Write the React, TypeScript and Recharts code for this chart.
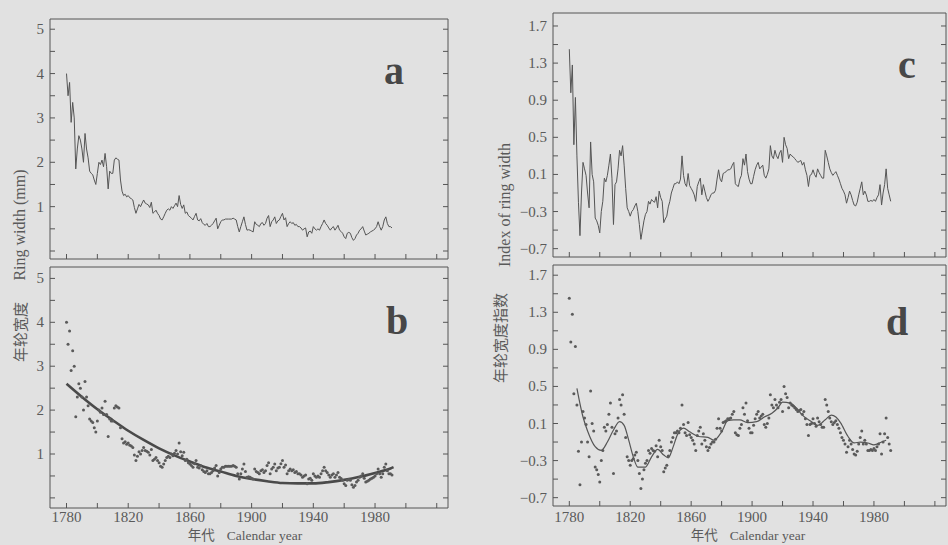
import React from 'react';
import { ComposedChart, Line, Scatter, XAxis, YAxis } from 'recharts';

// ---------------- data ----------------
const START_YEAR = 1780;

// annual ring width (mm), 1780-1991
const ringWidth = [
  4.0, 3.5, 3.8, 2.9, 3.35, 3.0, 1.85, 2.3, 2.6, 2.5,
  2.3, 2.0, 2.65, 2.3, 2.1, 1.8, 1.75, 1.72, 1.6, 1.5,
  1.75, 2.0, 1.95, 2.05, 1.9, 2.2, 1.9, 1.4, 1.8, 1.75,
  1.75, 2.05, 2.1, 2.07, 2.05, 1.6, 1.35, 1.25, 1.28, 1.22,
  1.25, 1.2, 1.18, 1.15, 0.98, 0.85, 0.95, 1.05, 1.0, 1.08,
  1.15, 1.08, 1.06, 1.04, 0.98, 1.1, 0.85, 0.88, 0.92, 0.85,
  0.8, 0.72, 0.7, 0.77, 0.85, 0.92, 0.95, 0.92, 1.0, 0.96,
  1.02, 1.08, 1.0, 1.25, 1.05, 0.96, 1.04, 0.85, 0.88, 0.8,
  0.77, 0.74, 0.7, 0.78, 0.85, 0.7, 0.68, 0.73, 0.64, 0.6,
  0.58, 0.62, 0.55, 0.55, 0.58, 0.62, 0.68, 0.74, 0.5, 0.58,
  0.66, 0.7, 0.7, 0.72, 0.72, 0.72, 0.72, 0.72, 0.74, 0.72,
  0.7, 0.55, 0.43, 0.55, 0.66, 0.77, 0.6, 0.47, 0.48, 0.47,
  0.45, 0.43, 0.66, 0.6, 0.58, 0.55, 0.62, 0.64, 0.58, 0.62,
  0.74, 0.8, 0.55, 0.66, 0.7, 0.77, 0.62, 0.68, 0.7, 0.78,
  0.85, 0.7, 0.75, 0.55, 0.62, 0.66, 0.62, 0.64, 0.58, 0.6,
  0.55, 0.55, 0.52, 0.47, 0.5, 0.52, 0.32, 0.43, 0.45, 0.4,
  0.55, 0.5, 0.47, 0.5, 0.47, 0.55, 0.62, 0.7, 0.62, 0.58,
  0.52, 0.47, 0.52, 0.55, 0.47, 0.52, 0.58, 0.47, 0.44, 0.4,
  0.32, 0.28, 0.4, 0.42, 0.4, 0.3, 0.24, 0.28, 0.36, 0.4,
  0.47, 0.5, 0.55, 0.45, 0.36, 0.38, 0.4, 0.43, 0.45, 0.47,
  0.5, 0.55, 0.66, 0.55, 0.47, 0.55, 0.7, 0.77, 0.62, 0.55,
  0.55, 0.52,
];

// ring width index, 1780-1991
const ringIndex = [
  1.45, 0.98, 1.28, 0.42, 0.93, 0.3, -0.2, -0.56, -0.1, 0.23,
  0.16, 0.09, -0.1, -0.26, 0.45, 0.1, 0.02, -0.37, -0.4, -0.45,
  -0.53, -0.3, -0.19, 0.06, 0.02, 0.09, 0.2, 0.32, 0.06, -0.44,
  -0.01, 0.02, 0.16, 0.36, 0.3, 0.41, 0.2, -0.05, -0.26, -0.3,
  -0.35, -0.3, -0.28, -0.24, -0.21, -0.3, -0.44, -0.6, -0.5, -0.4,
  -0.33, -0.3, -0.19, -0.22, -0.17, -0.19, -0.2, -0.14, -0.26, -0.08,
  -0.15, -0.19, -0.42, -0.38, -0.35, -0.25, -0.19, -0.1, -0.05, 0.0,
  0.0, 0.02, 0.0, 0.05, 0.3, 0.09, 0.0, -0.03, 0.11, -0.02,
  -0.05, -0.08, -0.12, -0.19, -0.03, 0.02, 0.06, -0.12, -0.01, -0.08,
  -0.15, -0.19, -0.16, -0.12, -0.1, -0.1, -0.07, 0.05, 0.15, 0.05,
  0.02, 0.11, 0.12, 0.13, 0.15, 0.15, 0.16, 0.2, 0.23, 0.0,
  -0.02, -0.03, 0.05, 0.09, 0.27, 0.2, 0.32, 0.13, 0.05, 0.0,
  0.0, 0.08, 0.15, 0.2, 0.23, 0.16, 0.18, 0.2, 0.09, 0.06,
  0.1, 0.16, 0.41, 0.3, 0.27, 0.36, 0.3, 0.27, 0.33, 0.36,
  0.23, 0.5, 0.42, 0.38, 0.27, 0.32, 0.3, 0.29, 0.27, 0.25,
  0.23, 0.24, 0.25, 0.2, 0.23, 0.15, 0.09, -0.03, 0.09, 0.1,
  0.15, 0.1, 0.07, 0.16, 0.12, 0.09, 0.06, 0.06, 0.36, 0.3,
  0.23, 0.16, 0.12, 0.09, 0.11, 0.13, 0.09, 0.05, 0.0, -0.05,
  -0.08, -0.12, -0.21, -0.15, -0.08, -0.12, -0.18, -0.23, -0.24, -0.2,
  -0.12, -0.05, 0.02, -0.12, -0.08, -0.12, -0.19, -0.19, -0.18, -0.19,
  -0.17, -0.19, -0.15, -0.12, -0.01, -0.23, -0.1, -0.01, 0.16, -0.05,
  -0.12, -0.19,
];

// growth-trend curve (panel b)
const fitYears = [1780, 1790, 1800, 1810, 1820, 1830, 1840, 1850, 1860, 1870, 1880, 1890, 1900, 1910, 1920, 1930, 1940, 1950, 1960, 1970, 1980, 1990, 1992];
const fitValues = [2.6, 2.3, 2.02, 1.77, 1.53, 1.32, 1.13, 0.97, 0.83, 0.7, 0.6, 0.5, 0.43, 0.38, 0.34, 0.33, 0.33, 0.36, 0.41, 0.48, 0.57, 0.67, 0.7];

// smoothed index (panel d)
const smoothYears = [1785, 1789, 1792, 1797, 1801, 1805, 1809, 1813, 1816, 1819, 1822, 1825, 1830, 1834, 1838, 1842, 1845, 1848, 1851, 1855, 1859, 1865, 1871, 1875, 1880, 1884, 1888, 1892, 1897, 1903, 1908, 1913, 1917, 1920, 1925, 1929, 1933, 1939, 1943, 1948, 1952, 1955, 1958, 1963, 1967, 1971, 1976, 1980, 1985, 1988];
const smoothValues = [0.48, 0.17, 0.02, -0.15, -0.19, -0.1, 0.03, 0.12, 0.08, -0.08, -0.26, -0.37, -0.37, -0.26, -0.18, -0.24, -0.27, -0.16, -0.02, 0.05, 0.01, -0.04, -0.05, -0.08, 0.01, 0.13, 0.14, 0.14, 0.11, 0.12, 0.17, 0.21, 0.27, 0.33, 0.32, 0.27, 0.19, 0.12, 0.08, 0.14, 0.19, 0.17, 0.11, -0.04, -0.11, -0.1, -0.11, -0.13, -0.1, -0.08];

// axis ticks
const xTicks = [1780, 1800, 1820, 1840, 1860, 1880, 1900, 1920, 1940, 1960, 1980, 2000, 2020];
const xLabels = [1780, 1820, 1860, 1900, 1940, 1980];
const widthTicks = [0, 0.5, 1, 1.5, 2, 2.5, 3, 3.5, 4, 4.5, 5];
const widthLabels = [1, 2, 3, 4, 5];
const indexTicks = [-0.7, -0.5, -0.3, -0.1, 0.1, 0.3, 0.5, 0.7, 0.9, 1.1, 1.3, 1.5, 1.7];
const indexLabels = [-0.7, -0.3, 0.1, 0.5, 0.9, 1.3, 1.7];

// ---------------- tables ----------------
const widthData = ringWidth.map((v, i) => ({ year: START_YEAR + i, v }));
const indexData = ringIndex.map((v, i) => ({ year: START_YEAR + i, v }));
const fitData = fitYears.map((year, i) => ({ year, v: fitValues[i] }));
const smoothData = smoothYears.map((year, i) => ({ year, v: smoothValues[i] }));

// ---------------- style ----------------
const W = 948;
const H = 545;
const PAPER = '#e1e1e1';
const INK = '#555555';
const TXT = '#5a5a5a';
const SERIF = '"Liberation Serif", "DejaVu Serif", serif';
const CJK = '"Noto Sans CJK SC", "Noto Sans CJK JP", sans-serif';
const TL = 5;
const X_DOMAIN: [number, number] = [1769.3, 2027.3];

const has = (arr: number[], v: number) => arr.some((a) => Math.abs(a - v) < 1e-6);
const fmtWidth = (v: number) => String(v);
const fmtIndex = (v: number) => (v < 0 ? '\u2212' + Math.abs(v).toFixed(1) : v.toFixed(1));

type Frame = { left: number; top: number; right: number; bottom: number };

const makeBottomTick = (show: boolean, dy: number) => (p: any) => {
  const v = p.payload.value;
  return (
    <g>
      <line x1={p.x} x2={p.x} y1={p.y} y2={p.y - TL} stroke={INK} strokeWidth={1} />
      {show && has(xLabels, v) ? (
        <text x={p.x} y={p.y + dy} textAnchor="middle" fontFamily={SERIF} fontSize={15} fill={TXT}>
          {v}
        </text>
      ) : null}
    </g>
  );
};
const topTick = (p: any) => (
  <line x1={p.x} x2={p.x} y1={p.y} y2={p.y + TL} stroke={INK} strokeWidth={1} />
);
const rightTick = (p: any) => (
  <line x1={p.x} x2={p.x - TL} y1={p.y} y2={p.y} stroke={INK} strokeWidth={1} />
);
const makeLeftTick = (labels: number[], fmt: (v: number) => string) => (p: any) => {
  const v = p.payload.value;
  return (
    <g>
      <line x1={p.x} x2={p.x + TL} y1={p.y} y2={p.y} stroke={INK} strokeWidth={1} />
      {has(labels, v) ? (
        <text x={p.x - 6} y={p.y + 5} textAnchor="end" fontFamily={SERIF} fontSize={15} fill={TXT}>
          {fmt(v)}
        </text>
      ) : null}
    </g>
  );
};

function Panel(props: {
  frame: Frame;
  yDomain: [number, number];
  yTicks: number[];
  yLabels: number[];
  fmt: (v: number) => string;
  showX: boolean;
  labelDy: number;
  children: React.ReactNode;
}) {
  const f = props.frame;
  return (
    <div style={{ position: 'absolute', left: 0, top: 0 }}>
      <ComposedChart
        width={W}
        height={H}
        margin={{ top: f.top - 1, left: f.left - 1, right: W - f.right - 1, bottom: H - f.bottom - 1 }}
      >
        <XAxis
          xAxisId={0}
          dataKey="year"
          type="number"
          domain={X_DOMAIN}
          allowDataOverflow
          ticks={xTicks}
          interval={0}
          height={1}
          tickSize={0}
          tickMargin={0}
          tickLine={false}
          axisLine={{ stroke: INK, strokeWidth: 1 }}
          tick={makeBottomTick(props.showX, props.labelDy)}
        />
        <XAxis
          xAxisId="top"
          orientation="top"
          type="number"
          domain={X_DOMAIN}
          allowDataOverflow
          ticks={xTicks}
          interval={0}
          height={1}
          tickSize={0}
          tickMargin={0}
          tickLine={false}
          axisLine={{ stroke: INK, strokeWidth: 1 }}
          tick={topTick}
        />
        <YAxis
          yAxisId={0}
          dataKey="v"
          type="number"
          domain={props.yDomain}
          allowDataOverflow
          ticks={props.yTicks}
          interval={0}
          width={1}
          tickSize={0}
          tickMargin={0}
          tickLine={false}
          axisLine={{ stroke: INK, strokeWidth: 1 }}
          tick={makeLeftTick(props.yLabels, props.fmt)}
        />
        <YAxis
          yAxisId="right"
          orientation="right"
          type="number"
          domain={props.yDomain}
          allowDataOverflow
          ticks={props.yTicks}
          interval={0}
          width={1}
          tickSize={0}
          tickMargin={0}
          tickLine={false}
          axisLine={{ stroke: INK, strokeWidth: 1 }}
          tick={rightTick}
        />
        {props.children}
      </ComposedChart>
    </div>
  );
}

const dotShape = (p: any) => <circle cx={p.cx} cy={p.cy} r={1.5} fill="#5a5a5a" />;

export default function App() {
  return (
    <div
      style={{
        position: 'absolute',
        left: 0,
        top: 0,
        width: W,
        height: H,
        background: PAPER,
        overflow: 'hidden',
      }}
    >
      {/* a */}
      <Panel
        frame={{ left: 50, top: 19, right: 448, bottom: 259 }}
        yDomain={[-0.18, 5.23]}
        yTicks={widthTicks}
        yLabels={widthLabels}
        fmt={fmtWidth}
        showX={false}
        labelDy={14}
      >
        <Line data={widthData} dataKey="v" type="linear" stroke={INK} strokeWidth={1} dot={false} isAnimationActive={false} />
      </Panel>
      {/* b */}
      <Panel
        frame={{ left: 50, top: 267, right: 448, bottom: 508 }}
        yDomain={[-0.23, 5.26]}
        yTicks={widthTicks}
        yLabels={widthLabels}
        fmt={fmtWidth}
        showX={true}
        labelDy={14}
      >
        <Scatter data={widthData} dataKey="v" shape={dotShape} isAnimationActive={false} />
        <Line data={fitData} dataKey="v" type="monotone" stroke="#4a4a4a" strokeWidth={2.6} dot={false} isAnimationActive={false} />
      </Panel>
      {/* c */}
      <Panel
        frame={{ left: 553, top: 13, right: 946, bottom: 257 }}
        yDomain={[-0.79, 1.84]}
        yTicks={indexTicks}
        yLabels={indexLabels}
        fmt={fmtIndex}
        showX={false}
        labelDy={14}
      >
        <Line data={indexData} dataKey="v" type="linear" stroke={INK} strokeWidth={1} dot={false} isAnimationActive={false} />
      </Panel>
      {/* d */}
      <Panel
        frame={{ left: 553, top: 265, right: 946, bottom: 506 }}
        yDomain={[-0.79, 1.81]}
        yTicks={indexTicks}
        yLabels={indexLabels}
        fmt={fmtIndex}
        showX={true}
        labelDy={16}
      >
        <Scatter data={indexData} dataKey="v" shape={dotShape} isAnimationActive={false} />
        <Line data={smoothData} dataKey="v" type="monotone" stroke={INK} strokeWidth={1.2} dot={false} isAnimationActive={false} />
      </Panel>

      <svg width={W} height={H} style={{ position: 'absolute', left: 0, top: 0, pointerEvents: 'none' }}>
        {/* panel letters */}
        <g fontFamily={SERIF} fontWeight="bold" fontSize={40} fill="#474747">
          <text x={394} y={84} textAnchor="middle">a</text>
          <text x={397} y={334} textAnchor="middle">b</text>
          <text x={907} y={78} textAnchor="middle">c</text>
          <text x={897} y={335} textAnchor="middle">d</text>
        </g>
        {/* left y label */}
        <text
          transform="translate(19,225) rotate(-90)"
          textAnchor="middle"
          dominantBaseline="central"
          fontFamily={SERIF}
          fontSize={16}
          fill={TXT}
        >
          Ring width (mm)
        </text>
        <text
          transform="translate(19,332) rotate(-90)"
          textAnchor="middle"
          dominantBaseline="central"
          fontFamily={CJK}
          fontSize={15}
          fill={TXT}
        >
          年轮宽度
        </text>
        {/* right y label */}
        <text
          transform="translate(504,205) rotate(-90)"
          textAnchor="middle"
          dominantBaseline="central"
          fontFamily={SERIF}
          fontSize={16}
          fill={TXT}
        >
          Index of ring width
        </text>
        <text
          transform="translate(499,338) rotate(-90)"
          textAnchor="middle"
          dominantBaseline="central"
          fontFamily={CJK}
          fontSize={15}
          fill={TXT}
        >
          年轮宽度指数
        </text>
        {/* x labels */}
        <text x={245} y={540} textAnchor="middle" fontSize={13.5} fill={TXT}>
          <tspan fontFamily={CJK}>年代</tspan>
          <tspan fontFamily={SERIF} dx={12}>Calendar year</tspan>
        </text>
        <text x={748} y={540} textAnchor="middle" fontSize={13.5} fill={TXT}>
          <tspan fontFamily={CJK}>年代</tspan>
          <tspan fontFamily={SERIF} dx={12}>Calendar year</tspan>
        </text>
      </svg>
    </div>
  );
}
